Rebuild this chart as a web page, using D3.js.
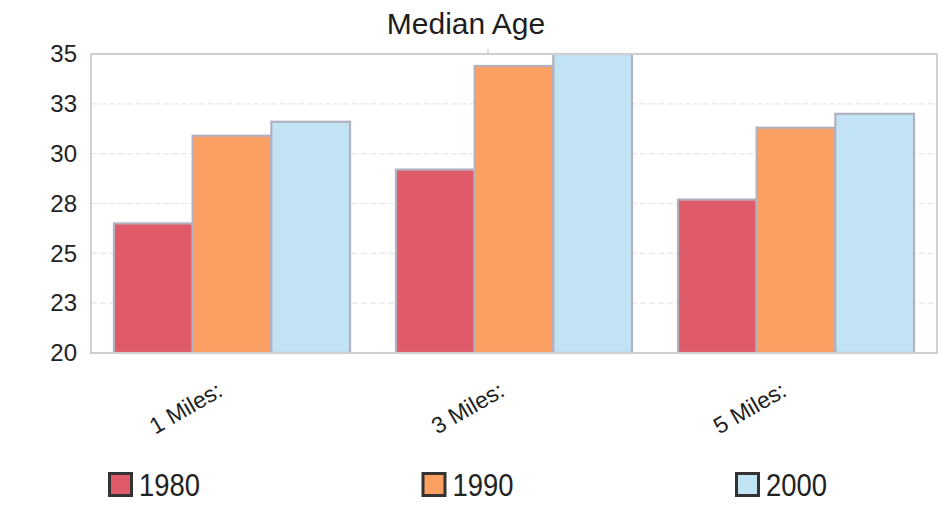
<!DOCTYPE html>
<html>
<head>
<meta charset="utf-8">
<script src="https://cdn.jsdelivr.net/npm/d3@7"></script>
<style>
  html, body { margin: 0; padding: 0; background: #fff; }
  svg { display: block; font-family: "Liberation Sans", Arial, sans-serif; }
</style>
</head>
<body>
<svg id="chart" width="947" height="529"></svg>
<script>
// Median age by distance ring and census year
const categories = ["1 Miles:", "3 Miles:", "5 Miles:"];
const years = ["1980", "1990", "2000"];
const values1980 = [26.5, 29.2, 27.7];
const values1990 = [30.9, 34.4, 31.3];
const values2000 = [31.6, 35.0, 32.0];
const yTickValues = [20, 22.5, 25, 27.5, 30, 32.5, 35];
const yTickLabels = ["20", "23", "25", "28", "30", "33", "35"];
const seriesColors = ["#e05b69", "#fb9f62", "#c1e3f3"];

const series = [values1980, values1990, values2000];

const svg = d3.select("#chart");
const margin = { left: 91, right: 10, top: 54, bottom: 176 };
const W = 947, H = 529;
const plotW = W - margin.left - margin.right;   // 846
const plotH = H - margin.top - margin.bottom;   // ~299

const x0 = d3.scaleBand().domain(categories).range([0, plotW])
  .paddingInner(0.163).paddingOuter(0.0815);
const x1 = d3.scaleBand().domain(years).range([0, x0.bandwidth()]);
const y = d3.scaleLinear().domain([20, 35]).range([plotH, 0]);

const g = svg.append("g").attr("transform", `translate(${margin.left},${margin.top})`);

// faint horizontal gridlines
g.append("g").selectAll("line")
  .data(yTickValues.slice(1, -1))
  .join("line")
  .attr("x1", 0).attr("x2", plotW)
  .attr("y1", d => y(d)).attr("y2", d => y(d))
  .attr("stroke", "#e6e6ee").attr("stroke-width", 1.2)
  .attr("stroke-dasharray", "6,3");

// bars
const groups = g.append("g").selectAll("g")
  .data(categories)
  .join("g")
  .attr("transform", d => `translate(${x0(d)},0)`);

groups.selectAll("rect")
  .data((c, ci) => years.map((yr, si) => ({ yr, si, v: series[si][ci] })))
  .join("rect")
  .attr("x", d => x1(d.yr))
  .attr("width", x1.bandwidth())
  .attr("y", d => y(d.v))
  .attr("height", d => y(20) - y(d.v))
  .attr("fill", d => seriesColors[d.si])
  .attr("stroke", "#b3b0c0")
  .attr("stroke-width", 2.2);

// plot frame
g.append("rect")
  .attr("x", 0).attr("y", 0).attr("width", plotW).attr("height", plotH)
  .attr("fill", "none").attr("stroke", "#cfcfd4").attr("stroke-width", 2);

// small tick mark on the top edge
g.append("line")
  .attr("x1", 397).attr("x2", 397).attr("y1", -5).attr("y2", 0)
  .attr("stroke", "#bbb").attr("stroke-width", 1);

// y axis labels
const yAxis = d3.axisLeft(y).tickValues(yTickValues)
  .tickFormat((d, i) => yTickLabels[i]).tickSize(0).tickPadding(14);
const yg = g.append("g").call(yAxis);
yg.select(".domain").remove();
yg.selectAll("text").attr("font-size", 24).attr("fill", "#222")
  .attr("font-family", "Liberation Sans, Arial, sans-serif");

// x axis labels, rotated
const xAxis = d3.axisBottom(x0).tickSize(0).tickPadding(0);
const xg = g.append("g").attr("transform", `translate(0,${plotH})`).call(xAxis);
xg.select(".domain").remove();
xg.selectAll("text")
  .attr("font-size", 23).attr("fill", "#1e1e1e")
  .attr("font-family", "Liberation Sans, Arial, sans-serif")
  .attr("text-anchor", "end")
  .attr("dy", 0)
  .attr("y", 0)
  .attr("transform", "translate(-8,42) rotate(-30)");

// title
svg.append("text")
  .attr("x", 466).attr("y", 34)
  .attr("text-anchor", "middle")
  .attr("font-size", 30).attr("fill", "#1e1e1e")
  .text("Median Age");

// legend
const legendX = d3.scalePoint().domain(years).range([108, 735]);
const lg = svg.append("g").selectAll("g")
  .data(years)
  .join("g")
  .attr("transform", d => `translate(${legendX(d)},472)`);
lg.append("rect")
  .attr("x", 1.5).attr("y", 1.5).attr("width", 22).attr("height", 22)
  .attr("fill", (d, i) => seriesColors[i])
  .attr("stroke", "#333").attr("stroke-width", 3);
lg.append("text")
  .attr("x", 31).attr("y", 24)
  .attr("font-size", 32).attr("fill", "#222")
  .attr("textLength", 61).attr("lengthAdjust", "spacingAndGlyphs")
  .text(d => d);
</script>
</body>
</html>
